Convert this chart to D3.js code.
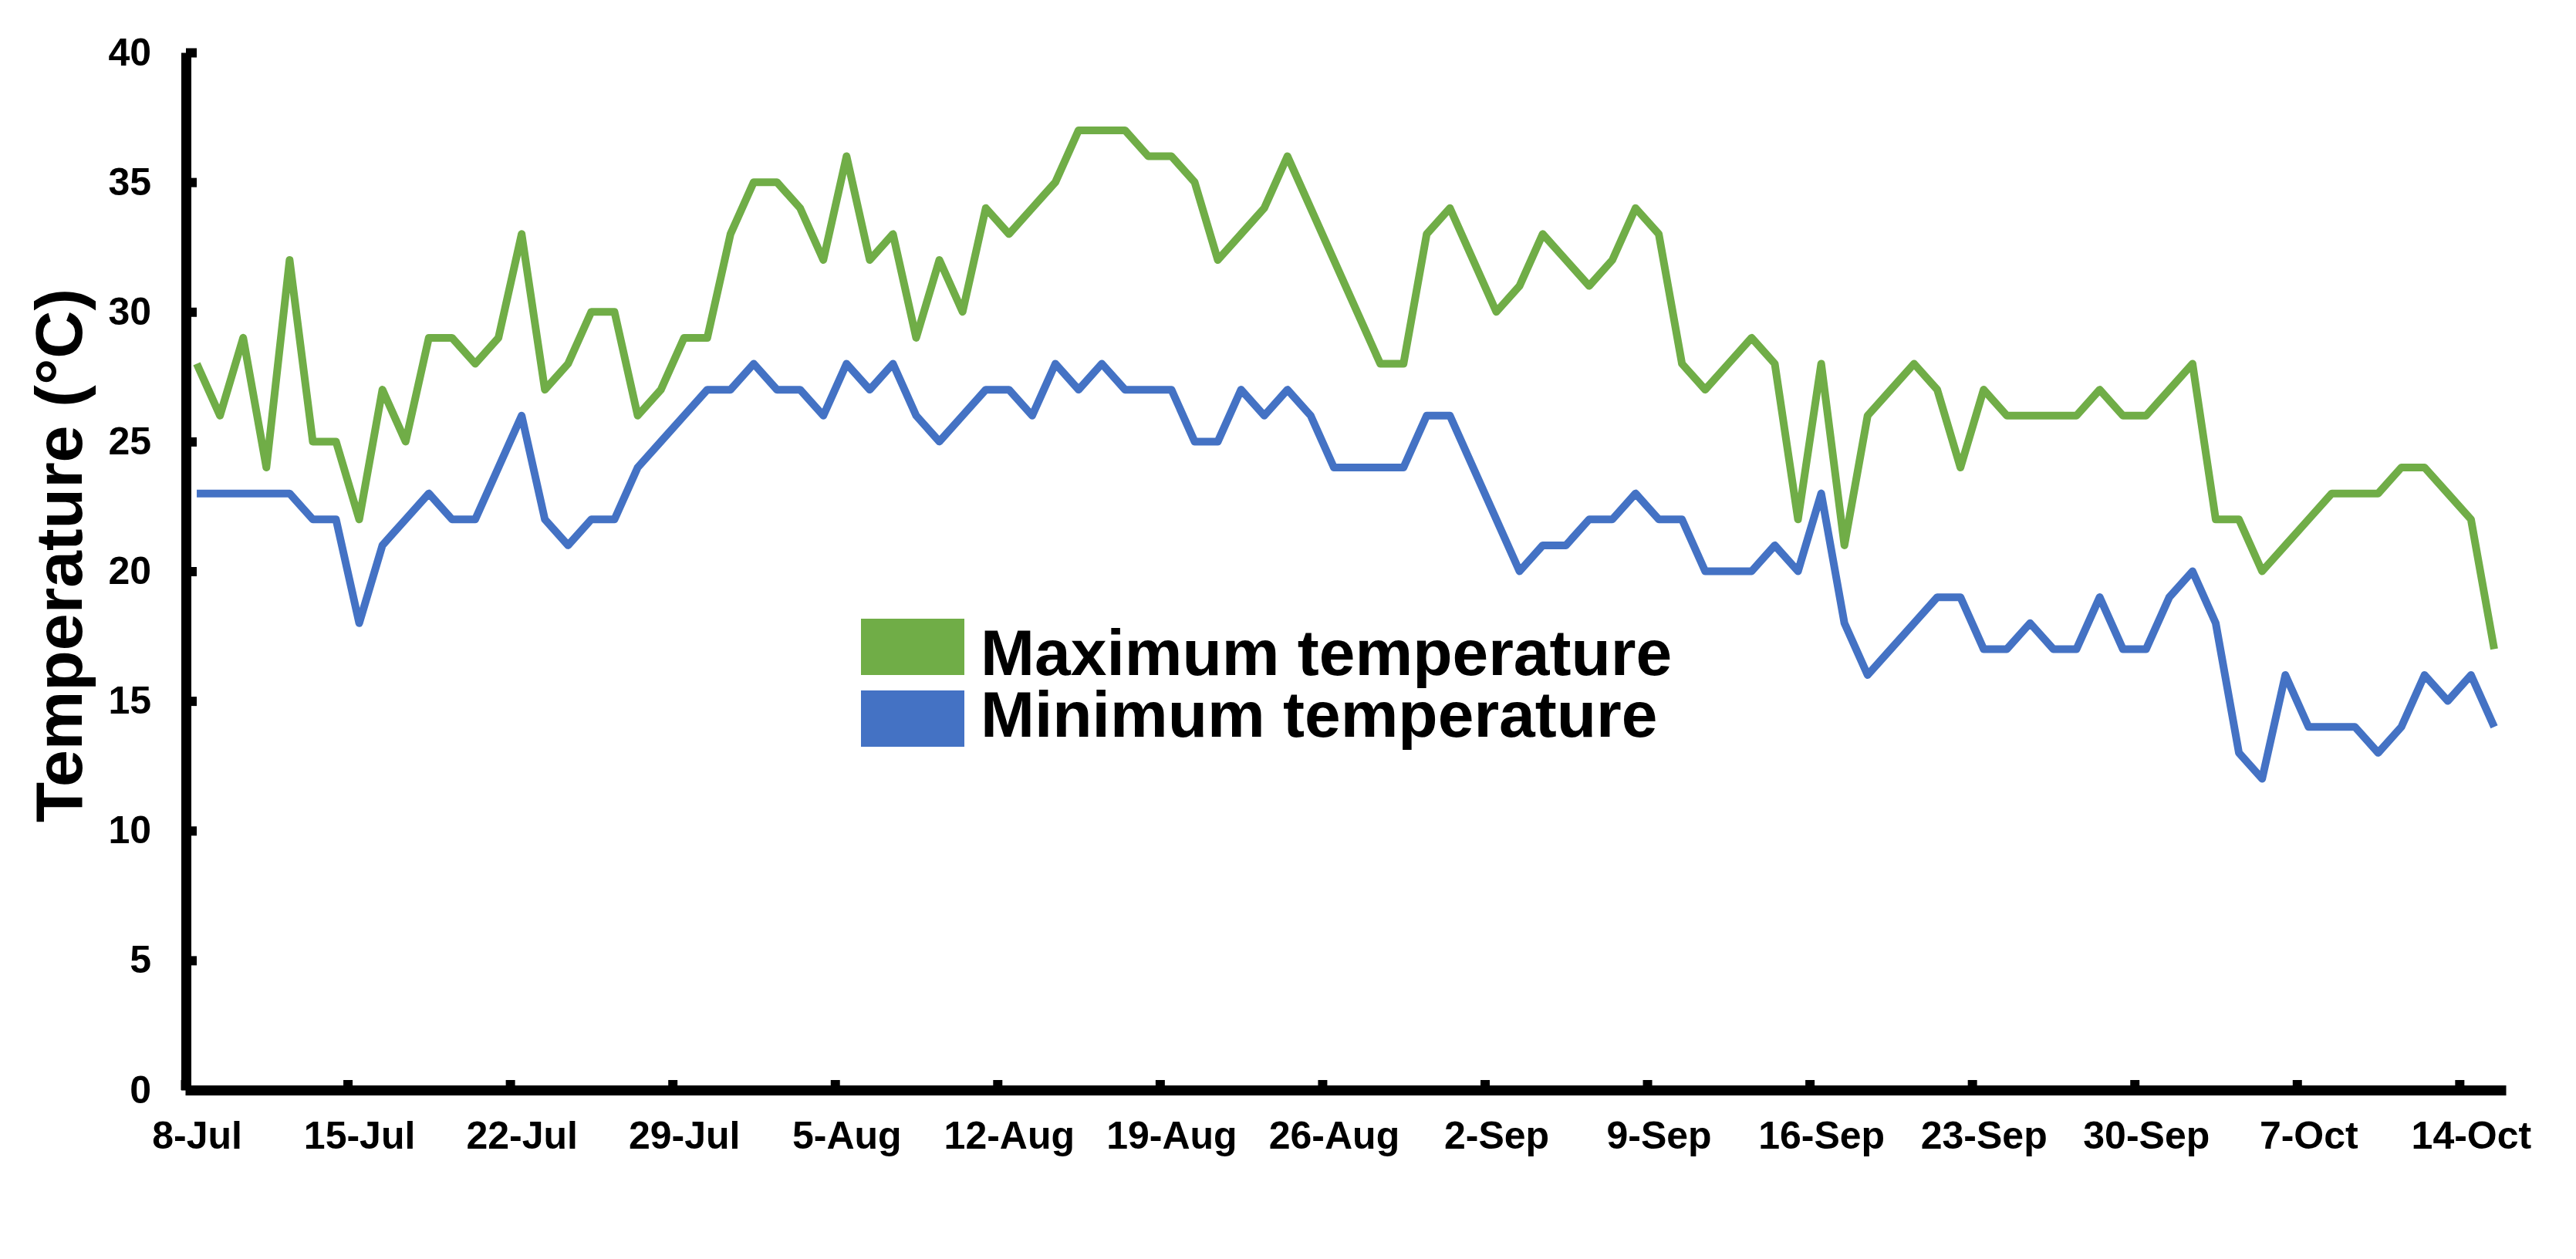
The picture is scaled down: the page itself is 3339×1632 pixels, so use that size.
<!DOCTYPE html>
<html>
<head>
<meta charset="utf-8">
<script src="https://cdn.jsdelivr.net/npm/d3@7"></script>
<style>
  html, body { margin: 0; padding: 0; background: #fff; }
  text { font-family: "Liberation Sans", Arial, sans-serif; font-weight: bold; }
</style>
</head>
<body>
<div id="chart"></div>
<script>
// daily values, 8-Jul to 15-Oct
const firstDay = "2019-07-08";
const maxTemp = [
  28,26,29,24,32,25,25,22,27,25,
  29,29,28,29,33,27,28,30,30,26,
  27,29,29,33,35,35,34,32,36,32,
  33,29,32,30,34,33,34,35,37,37,
  37,36,36,35,32,33,34,36,34,32,
  30,28,28,33,34,32,30,31,33,32,
  31,32,34,33,28,27,28,29,28,22,
  28,21,26,27,28,27,24,27,26,26,
  26,26,27,26,26,27,28,22,22,20,
  21,22,23,23,23,24,24,23,22,17
];
const minTemp = [
  23,23,23,23,23,22,22,18,21,22,
  23,22,22,24,26,22,21,22,22,24,
  25,26,27,27,28,27,27,26,28,27,
  28,26,25,26,27,27,26,28,27,28,
  27,27,27,25,25,27,26,27,26,24,
  24,24,24,26,26,24,22,20,21,21,
  22,22,23,22,22,20,20,20,21,20,
  23,18,16,17,18,19,19,17,17,18,
  17,17,19,17,17,19,20,18,13,12,
  16,14,14,14,13,14,16,15,16,14
];
const tickLabels = ["8-Jul","15-Jul","22-Jul","29-Jul","5-Aug","12-Aug","19-Aug",
  "26-Aug","2-Sep","9-Sep","16-Sep","23-Sep","30-Sep","7-Oct","14-Oct"];
const yTicks = [0,5,10,15,20,25,30,35,40];
const seriesNames = ["Maximum temperature", "Minimum temperature"];
const colors = ["#70AD47", "#4472C4"];

const width = 3339, height = 1632;

const svg = d3.select("#chart").append("svg")
    .attr("width", width)
    .attr("height", height)
    .style("display", "block");

const start = d3.utcParse("%Y-%m-%d")(firstDay);
const days = maxTemp.map((v, i) => d3.utcDay.offset(start, i));
const end = d3.utcDay.offset(start, days.length);
const mid = d => d3.utcHour.offset(d, 12);

const x = d3.scaleUtc().domain([start, end]).range([240, 3248]);
const y = d3.scaleLinear().domain([0, 40]).range([1413, 68]);

const tickDays = tickLabels.map((t, i) => d3.utcDay.offset(start, i * 7));

// y axis
const yAxis = svg.append("g")
    .attr("transform", "translate(241,0)")
    .call(d3.axisLeft(y).tickValues(yTicks).tickSizeInner(-14).tickSizeOuter(0).tickPadding(45));
yAxis.select(".domain").attr("stroke", "#000").attr("stroke-width", 13);
yAxis.selectAll(".tick line").attr("stroke", "#000").attr("stroke-width", 12);
yAxis.selectAll(".tick text").attr("font-size", 50).attr("fill", "#000");

// x axis: ticks at the start of each week
const xAxis = svg.append("g")
    .attr("transform", "translate(0,1413)")
    .call(d3.axisBottom(x).tickValues(tickDays).tickSizeInner(-13).tickSizeOuter(0).tickFormat(""));
xAxis.select(".domain").attr("stroke", "#000").attr("stroke-width", 13);
xAxis.selectAll(".tick line").attr("stroke", "#000").attr("stroke-width", 12);

// x labels: centred on the day
const xLabels = svg.append("g")
    .attr("transform", "translate(0,1413)")
    .call(d3.axisBottom(x).tickValues(tickDays.map(mid)).tickSize(0).tickPadding(40)
      .tickFormat((d, i) => tickLabels[i]));
xLabels.select(".domain").remove();
xLabels.selectAll(".tick text").attr("font-size", 50).attr("fill", "#000");

// y axis title
svg.append("text")
    .attr("transform", "translate(106,720) rotate(-90)")
    .attr("text-anchor", "middle")
    .attr("font-size", 86)
    .attr("fill", "#000")
    .text("Temperature (°C)");

// lines
const line = d3.line()
    .x((d, i) => x(mid(days[i])))
    .y(d => y(d));

[maxTemp, minTemp].forEach((s, k) => {
  svg.append("path")
      .datum(s)
      .attr("fill", "none")
      .attr("stroke", colors[k])
      .attr("stroke-width", 10)
      .attr("stroke-linejoin", "round")
      .attr("d", line);
});

// legend
const legend = svg.append("g").attr("transform", "translate(1116,802)");
seriesNames.forEach((name, k) => {
  legend.append("rect")
      .attr("x", 0)
      .attr("y", k * 93)
      .attr("width", 134)
      .attr("height", 73)
      .attr("fill", colors[k]);
  legend.append("text")
      .attr("x", 155)
      .attr("y", 73 + k * 80)
      .attr("font-size", 84)
      .attr("fill", "#000")
      .text(name);
});
</script>
</body>
</html>
